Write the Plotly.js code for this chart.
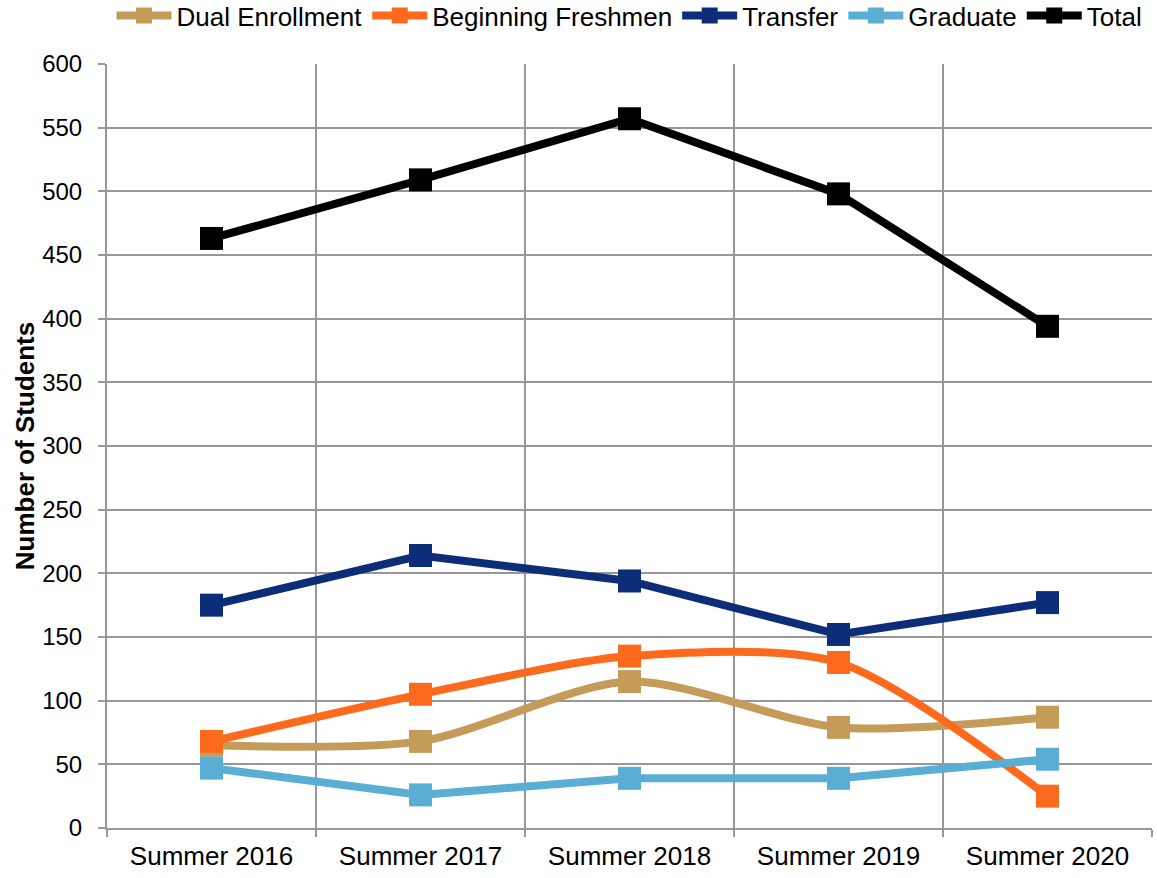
<!DOCTYPE html>
<html>
<head>
<meta charset="utf-8">
<script src="https://cdn.plot.ly/plotly-3.0.1.min.js"></script>
<style>html,body{margin:0;padding:0;background:#fff;}#chart{width:1157px;height:878px;}</style>
</head>
<body>
<div id="chart"></div>
<script>
const categories = ["Summer 2016", "Summer 2017", "Summer 2018", "Summer 2019", "Summer 2020"];
const dualEnrollment = [65, 68, 115, 79, 87];
const beginningFreshmen = [68, 105, 135, 130, 25];
const transfer = [175, 214, 194, 152, 177];
const graduate = [47, 26, 39, 39, 54];
const total = [463, 509, 557, 498, 394];

const FONT = 'Liberation Sans, Arial, sans-serif';

function tr(name, y, color, shape) {
  return {
    type: 'scatter', mode: 'lines+markers', name: name,
    x: categories, y: y,
    line: {color: color, width: 8, shape: shape, smoothing: 0.8},
    marker: {symbol: 'square', size: 23, color: color}
  };
}

const data = [
  tr('Dual Enrollment', dualEnrollment, '#C59B5A', 'spline'),
  tr('Beginning Freshmen', beginningFreshmen, '#FD6A1E', 'spline'),
  tr('Transfer', transfer, '#0D2D78', 'linear'),
  tr('Graduate', graduate, '#5AAED3', 'linear'),
  tr('Total', total, '#000000', 'linear')
];

const layout = {
  width: 1157, height: 878,
  margin: {l: 107, r: 5, t: 64, b: 50, autoexpand: false},
  paper_bgcolor: '#fff', plot_bgcolor: '#fff',
  font: {family: FONT, size: 24, color: '#000'},
  showlegend: true,
  legend: {orientation: 'h', x: 0.5, xanchor: 'center', xref: 'paper',
           y: 1.094, yref: 'paper', yanchor: 'top', borderwidth: 0,
           font: {size: 26, family: FONT}, itemwidth: 55, tracegroupgap: 0, itemsizing: 'trace'},
  xaxis: {
    type: 'category', tickson: 'boundaries', showgrid: true, gridcolor: '#979797', gridwidth: 2,
    ticks: 'outside', ticklen: 7, tickcolor: '#979797', tickwidth: 2,
    showline: true, linecolor: '#979797', linewidth: 2, mirror: false,
    tickfont: {size: 26, family: FONT}, range: [-0.5, 4.5], zeroline: false,
    ticklabelstandoff: 4
  },
  yaxis: {
    range: [0, 600], dtick: 50, showgrid: true, gridcolor: '#979797', gridwidth: 2,
    ticks: 'outside', ticklen: 7, tickcolor: '#979797', tickwidth: 2,
    showline: true, linecolor: '#979797', linewidth: 2, zeroline: false,
    tickfont: {size: 24, family: FONT}, ticklabelstandoff: 11,
    title: {text: 'Number of Students', font: {size: 26, family: FONT, weight: 'bold'}, standoff: 0}
  }
};

Plotly.newPlot('chart', data, layout, {displayModeBar: false, staticPlot: true});
</script>
</body>
</html>
